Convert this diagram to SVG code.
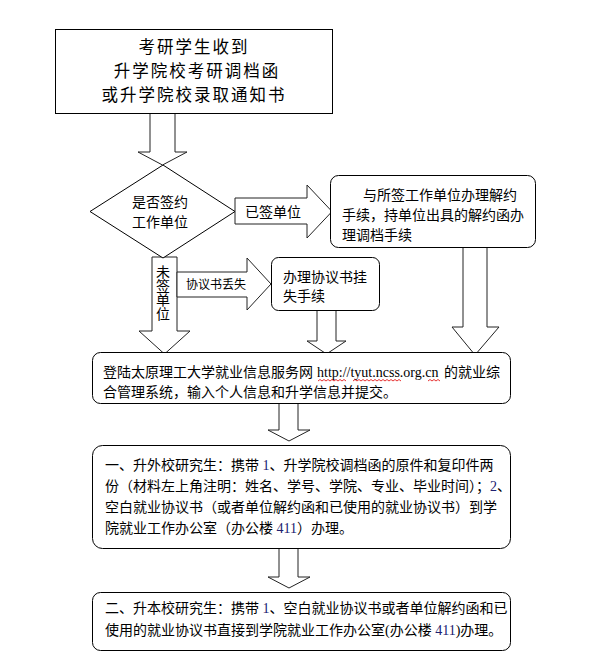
<svg xmlns="http://www.w3.org/2000/svg" width="601" height="660" viewBox="0 0 601 660">
<style>
.bg{fill:#fff}
.box{fill:#fff;stroke:#000;stroke-width:1}
.arrow{fill:#fff;stroke:#222;stroke-width:1;stroke-linejoin:miter}
.t{font-family:"Noto Sans CJK SC","Noto Sans CJK JP",sans-serif;font-size:14px;fill:#000}
.big{font-size:16.5px;letter-spacing:2px}
.sm{font-size:12px}
.num{font-family:"Liberation Serif",serif;fill:#202070}
.url{font-family:"Liberation Serif",serif;fill:#000}
.wave{fill:none;stroke:#e00000;stroke-width:0.8}
.vert{writing-mode:vertical-rl;glyph-orientation-vertical:0}
</style>
<rect class="bg" x="0" y="0" width="601" height="660"/>
<g id="connectors">
  <polygon class="arrow" points="150,113 175,113 175,152 187,152 162.5,165 138,152 150,152"/>
  <polygon class="arrow" points="235,198 307,198 307,185 332,211.5 307,238 307,224 235,224"/>
  <polygon class="arrow" points="463,247 487,247 487,327 499,327 475,355 452,327 463,327"/>
  <polygon class="arrow" points="152,257 177,257 177,331 190,331 164.5,354 139,331 152,331"/>
  <polygon class="arrow" points="177,272 247,272 247,258 271,284 247,310 247,297 177,297"/>
  <polygon class="arrow" points="317,310 336,310 336,341 346,341 326.5,354 307,341 317,341"/>
  <polygon class="arrow" points="279,403 298,403 298,430 310,430 289,441 268,430 279,430"/>
  <polygon class="arrow" points="279,548 298,548 298,577 310,577 289,588 268,577 279,577"/>
  <text class="t" x="245" y="217">已签单位</text>
  <text class="t sm" x="186" y="289">协议书丢失</text>
  <text class="t vert" x="163" y="265">未签单位</text>
</g>
<g id="node-start">
  <rect class="box" x="55.5" y="29.5" width="277" height="84"/>
  <text class="t big" x="194" y="53" text-anchor="middle">考研学生收到</text>
  <text class="t big" x="197" y="77" text-anchor="middle">升学院校考研调档函</text>
  <text class="t big" x="194" y="101" text-anchor="middle">或升学院校录取通知书</text>
</g>
<g id="node-decision">
  <polygon class="box" points="163,165 235,211.5 163,258 90,211.5"/>
  <text class="t" x="132" y="207">是否签约</text>
  <text class="t" x="132" y="227">工作单位</text>
</g>
<g id="node-signed">
  <rect class="box" x="330.5" y="175.5" width="205" height="72" rx="8"/>
  <text class="t" x="363" y="200">与所签工作单位办理解约</text>
  <text class="t" x="342" y="220">手续，持单位出具的解约函办</text>
  <text class="t" x="342" y="240">理调档手续</text>
</g>
<g id="node-lost">
  <rect class="box" x="271.5" y="257.5" width="108" height="53" rx="7"/>
  <text class="t" x="283" y="282">办理协议书挂</text>
  <text class="t" x="283" y="301">失手续</text>
</g>
<g id="node-register">
  <rect class="box" x="92.5" y="352.5" width="418" height="51" rx="8"/>
  <text class="t" x="103" y="377">登陆太原理工大学就业信息服务网</text>
  <text class="t url" x="317" y="377">http://tyut.ncss.org.cn</text>
  <text class="t" x="444" y="377">的就业综</text>
  <text class="t" x="103" y="397">合管理系统，输入个人信息和升学信息并提交。</text>
  <path class="wave" d="M318,381 l2,-1.5 2,1.5 2,-1.5 2,1.5 2,-1.5 2,1.5 2,-1.5 2,1.5 2,-1.5 2,1.5 2,-1.5 2,1.5 2,-1.5 2,1.5"/>
  <path class="wave" d="M353,381 l2,-1.5 2,1.5 2,-1.5 2,1.5 2,-1.5 2,1.5 2,-1.5 2,1.5 2,-1.5 2,1.5 2,-1.5 2,1.5 2,-1.5 2,1.5 2,-1.5 2,1.5 2,-1.5 2,1.5 2,-1.5 2,1.5 2,-1.5 2,1.5 2,-1.5 2,1.5"/>
  <path class="wave" d="M428,381 l2,-1.5 2,1.5 2,-1.5 2,1.5 2,-1.5 2,1.5"/>
</g>
<g id="node-other-school">
  <rect class="box" x="92.5" y="445.5" width="418" height="103" rx="10"/>
  <text class="t" x="105" y="470">一、升外校研究生：携带<tspan class="num"> 1</tspan>、升学院校调档函的原件和复印件两</text>
  <text class="t" x="105" y="491">份（材料左上角注明：姓名、学号、学院、专业、毕业时间）；<tspan class="num">2</tspan>、</text>
  <text class="t" x="105" y="512">空白就业协议书（或者单位解约函和已使用的就业协议书）到学</text>
  <text class="t" x="105" y="533">院就业工作办公室（办公楼<tspan class="num"> 411</tspan>）办理。</text>
</g>
<g id="node-own-school">
  <rect class="box" x="92.5" y="592.5" width="418" height="58" rx="8"/>
  <text class="t" x="105" y="613">二、升本校研究生：携带<tspan class="num"> 1</tspan>、空白就业协议书或者单位解约函和已</text>
  <text class="t" x="105" y="635">使用的就业协议书直接到学院就业工作办公室<tspan class="url">(</tspan>办公楼<tspan class="num"> 411</tspan><tspan class="url">)</tspan>办理。</text>
</g>
</svg>
